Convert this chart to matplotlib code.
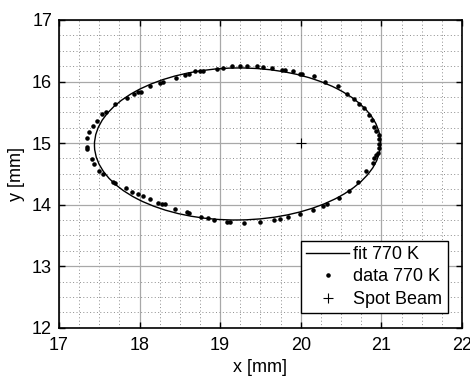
import matplotlib
matplotlib.use("Agg")
import matplotlib.pyplot as plt
from matplotlib.patches import Ellipse
from matplotlib.ticker import MultipleLocator

plt.rcParams['font.family'] = ['Liberation Sans', 'DejaVu Sans']
plt.rcParams['font.size'] = 13

# measured spot positions, 770 K
x_data = [17.344, 17.352, 17.373, 17.418, 17.468, 17.530, 17.580, 17.696, 17.841, 17.935,
          17.985, 18.019, 18.130, 18.255, 18.288, 18.453, 18.565, 18.619, 18.689,
          18.752, 18.793, 18.959, 19.041, 19.145, 19.248, 19.339, 19.456, 19.530, 19.642,
          19.766, 19.807, 19.903, 19.985,
          20.015, 20.159, 20.304, 20.462, 20.574, 20.656, 20.718, 20.780, 20.842, 20.884,
          20.913, 20.938, 20.967, 20.975, 20.971, 20.967, 20.954, 20.938, 20.913, 20.897,
          20.810, 20.706, 20.594, 20.470,
          20.325, 20.271, 20.152, 19.985, 19.836, 19.745, 19.662, 19.497, 19.290, 19.116,
          19.083, 18.929, 18.847, 18.764,
          18.619, 18.586, 18.441, 18.313, 18.280, 18.234, 18.126, 18.040, 17.977, 17.911,
          17.829, 17.700, 17.667, 17.551, 17.501, 17.439, 17.406, 17.344]
y_data = [14.933, 15.089, 15.177, 15.285, 15.361, 15.470, 15.512, 15.633, 15.730, 15.795,
          15.828, 15.837, 15.919, 15.974, 15.984, 16.055, 16.098, 16.120, 16.163,
          16.163, 16.174, 16.207, 16.218, 16.244, 16.244, 16.260, 16.244, 16.228, 16.218,
          16.190, 16.179, 16.163, 16.125,
          16.125, 16.093, 15.984, 15.919, 15.800, 15.714, 15.637, 15.567, 15.458, 15.377,
          15.268, 15.203, 15.133, 15.063, 14.987, 14.917, 14.846, 14.808, 14.754, 14.683,
          14.548, 14.374, 14.228, 14.104,
          14.007, 13.979, 13.914, 13.854, 13.800, 13.772, 13.746, 13.719, 13.698, 13.714,
          13.724, 13.746, 13.779, 13.800,
          13.870, 13.886, 13.930, 14.007, 14.016, 14.033, 14.088, 14.141, 14.174, 14.211,
          14.267, 14.348, 14.374, 14.499, 14.553, 14.657, 14.738, 14.900]

# fitted ellipse
fit_center = (19.215, 14.985)
fit_width = 3.55
fit_height = 2.47
fit_angle = 1.0

beam_x = [20.0]
beam_y = [15.0]

fig = plt.figure(figsize=(4.7, 3.76), dpi=100)
ax = fig.add_axes([0.1255, 0.1285, 0.8574, 0.8184])

ax.add_patch(Ellipse(fit_center, fit_width, fit_height, angle=fit_angle,
                     fill=False, edgecolor='black', lw=1.0, zorder=3))
ax.plot([], [], color='black', lw=1.0, label='fit 770 K')
ax.plot(x_data, y_data, '.', color='black', ms=4.5, label='data 770 K', zorder=4)
ax.plot(beam_x, beam_y, '+', color='black', ms=7, mew=0.8, label='Spot Beam', zorder=4)

ax.set_xlim(17, 22)
ax.set_ylim(12, 17)
ax.xaxis.set_major_locator(MultipleLocator(1))
ax.yaxis.set_major_locator(MultipleLocator(1))
ax.xaxis.set_minor_locator(MultipleLocator(0.25))
ax.yaxis.set_minor_locator(MultipleLocator(0.25))
ax.grid(which='major', color='#a8a8a8', lw=0.9, ls='-')
ax.grid(which='minor', color='#8c8c8c', lw=0.7, ls=(0, (1, 2.5)))
ax.set_axisbelow(True)
ax.tick_params(which='major', direction='in', length=4, width=1, top=True, right=True)
ax.tick_params(axis='x', which='major', pad=7)
ax.tick_params(axis='y', which='major', pad=5)
ax.tick_params(which='minor', length=0)
for s in ax.spines.values():
    s.set_linewidth(1.2)

ax.set_xlabel('x [mm]', labelpad=3)
ax.set_ylabel('y [mm]', labelpad=5)

leg = ax.legend(loc='lower right', fancybox=False, framealpha=1, edgecolor='black',
                handlelength=2.4, handletextpad=0.2, labelspacing=0.3,
                borderaxespad=0.8, borderpad=0.3)
leg.get_frame().set_linewidth(1.0)

fig.savefig('out.png', dpi=100)
